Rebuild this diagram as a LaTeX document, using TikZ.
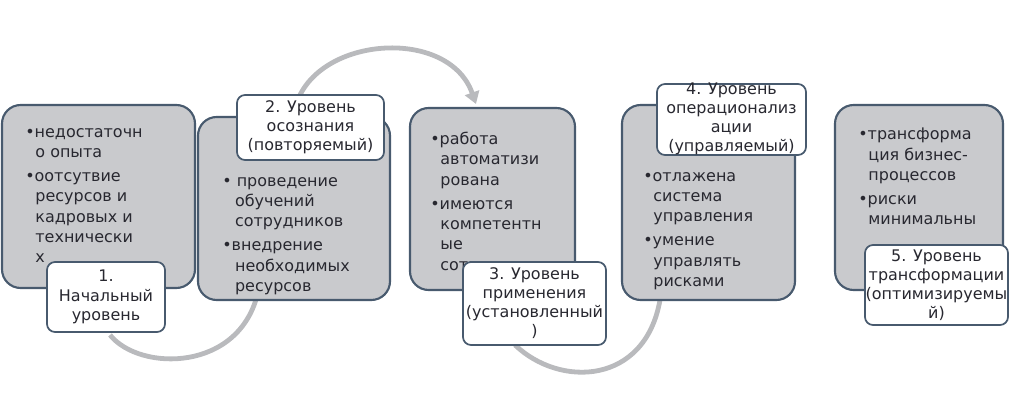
\documentclass[tikz,border=0pt]{standalone}
\usepackage{fontspec}
\setmainfont{DejaVu Sans}
\usetikzlibrary{arrows.meta}
\definecolor{boxcol}{RGB}{201,202,205}
\definecolor{linecol}{RGB}{72,90,110}
\definecolor{arccol}{RGB}{185,186,189}
\definecolor{txtcol}{RGB}{40,40,48}
\tikzset{stage/.style={draw=linecol,line width=1.6pt,fill=boxcol,rounded corners=14pt}}
\tikzset{tag/.style={draw=linecol,line width=1.3pt,fill=white,rounded corners=6pt}}
\tikzset{txt/.style={anchor=north west,align=left,text=txtcol,font=\fontsize{12}{15.2}\selectfont,inner sep=0pt}}
\tikzset{lab/.style={align=center,text=txtcol,font=\fontsize{12}{14.4}\selectfont,inner sep=0pt}}
\tikzset{arc/.style={arccol,line width=3.6pt}}
\begin{document}
\begin{tikzpicture}[x=0.0264cm,y=-0.0264cm]
\useasboundingbox (0,0) rectangle (1024,406);
% arcs behind the boxes
\coordinate (a1) at (110,335);
\coordinate (a1_) at (258,292);
\coordinate (a2) at (300,95);
\coordinate (a2_) at (476,104);
\coordinate (a3) at (515,345);
\coordinate (a3_) at (660,300);
\draw [arc] (a1) .. controls (140,372) and (240,372) .. (a1_);
\draw [arc,-{Triangle[length=9pt,width=11pt]}] (a2) .. controls (330,35) and (450,30) .. (a2_);
\draw [arc] (a3) .. controls (560,388) and (645,385) .. (a3_);

% stages
\path [stage] (2,105) rectangle (195,288) node [pos=0] (b1) {};
\path [stage] (198,117) rectangle (390,300) node [pos=0] (b2) {};
\path [stage] (410,108) rectangle (575,290) node [pos=0] (b3) {};
\path [stage] (622,105) rectangle (795,300) node [pos=0] (b4) {};
\path [stage] (835,105) rectangle (1003,290) node [pos=0] (b5) {};

\node [txt] (t1) at (25,128) {•недостаточн\\\ \ о опыта\\[3pt]•оотсутвие\\\ \ ресурсов и\\\ \ кадровых и\\\ \ технически\\\ \ х};
\node [txt] (t2) at (222,177) {• проведение\\\ \ \,обучений\\\ \ \,сотрудников\\[3pt]•внедрение\\\ \ \,необходимых\\\ \ \,ресурсов};
\node [txt] (t3) at (430,132) {•работа\\\ \ автоматизи\\\ \ рована\\[3pt]•имеются\\\ \ компетентн\\\ \ ые\\\ \ сотрудники};
\node [txt] (t4) at (643,172) {•отлажена\\\ \ система\\\ \ управления\\[3pt]•умение\\\ \ управлять\\\ \ рисками};
\node [txt] (t5) at (858,128) {•трансформа\\\ \ ция бизнес-\\\ \ процессов\\[3pt]•риски\\\ \ минимальны};

% labels
\draw [tag] (47,262) rectangle (165,332);
\node [lab] (l1) at (106,297) {1.\\Начальный\\уровень};
\draw [tag] (237,95) rectangle (384,160);
\node [lab] (l2) at (310.5,127) {2. Уровень\\осознания\\(повторяемый)};
\draw [tag] (463,262) rectangle (606,345);
\node [lab] (l3) at (534.5,303) {3. Уровень\\применения\\(установленный\\)};
\draw [tag] (657,84) rectangle (806,155);
\node [lab] (l4) at (731.5,119) {4. Уровень\\операционализ\\ации\\(управляемый)};
\draw [tag] (865,245) rectangle (1008,325);
\node [lab] (l5) at (936.5,285) {5. Уровень\\трансформации\\(оптимизируемы\\й)};
\end{tikzpicture}
\end{document}
